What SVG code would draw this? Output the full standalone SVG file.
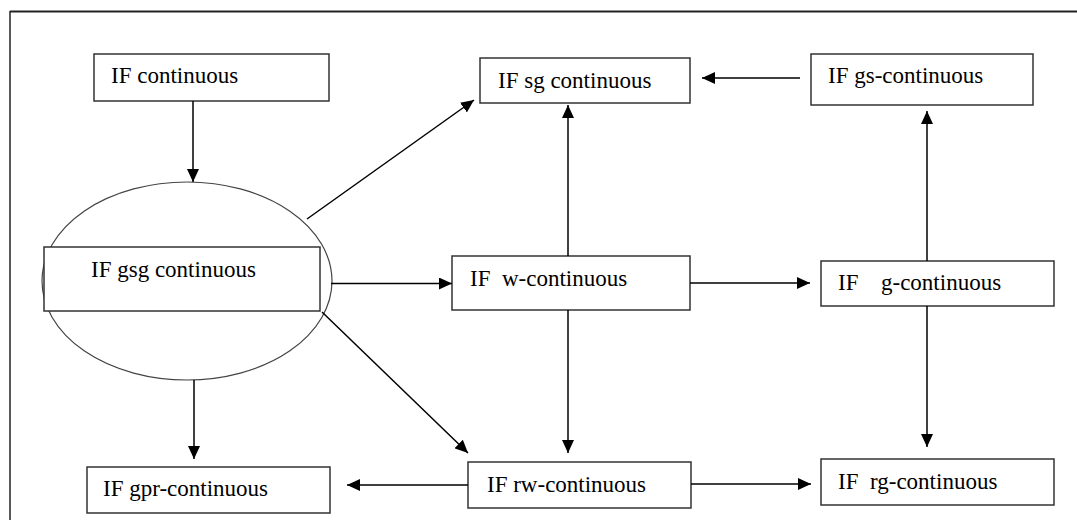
<svg xmlns="http://www.w3.org/2000/svg" width="1077" height="520" viewBox="0 0 1077 520">
<style>
.box{fill:#fff;stroke:#333;stroke-width:1.5}
.lbl{font-family:"Liberation Serif","Times New Roman",serif;font-size:23px;fill:#000}
.con{stroke:#000;stroke-width:1.5;fill:none;marker-end:url(#ah)}
.frame{stroke:#222;fill:none}
</style>
<defs>
<marker id="ah" markerUnits="userSpaceOnUse" markerWidth="14" markerHeight="12" refX="13" refY="6" orient="auto">
<path d="M0,0 L13,6 L0,12 z" fill="#000"/>
</marker>
</defs>
<g id="frame">
<line class="frame" x1="10" y1="11.5" x2="1077" y2="11.5" stroke-width="2"/>
<line class="frame" x1="10" y1="11" x2="10" y2="520" stroke-width="1.5"/>
</g>
<g id="n-continuous"><rect class="box" x="94" y="54" width="235" height="47"/><text class="lbl" x="111" y="83">IF continuous</text></g>
<g id="n-sg"><rect class="box" x="480" y="58" width="210" height="45"/><text class="lbl" x="498" y="88">IF sg continuous</text></g>
<g id="n-gs"><rect class="box" x="811" y="54" width="222" height="51"/><text class="lbl" x="828" y="83">IF gs-continuous</text></g>
<g id="n-gsg">
<ellipse cx="187" cy="281" rx="145" ry="99" fill="#fff" stroke="#444" stroke-width="1.2"/>
<rect class="box" x="44" y="247" width="276" height="64"/>
<text class="lbl" x="91" y="277">IF gsg continuous</text>
</g>
<g id="n-w"><rect class="box" x="452" y="256" width="238" height="54"/><text class="lbl" x="470" y="286">IF<tspan x="502">w-continuous</tspan></text></g>
<g id="n-g"><rect class="box" x="821" y="261" width="233" height="45"/><text class="lbl" x="838" y="290">IF<tspan x="881">g-continuous</tspan></text></g>
<g id="n-gpr"><rect class="box" x="87" y="467" width="243" height="46"/><text class="lbl" x="103" y="496">IF gpr-continuous</text></g>
<g id="n-rw"><rect class="box" x="468" y="462" width="223" height="46"/><text class="lbl" x="487" y="492">IF rw-continuous</text></g>
<g id="n-rg"><rect class="box" x="821" y="459" width="233" height="46"/><text class="lbl" x="838" y="489">IF<tspan x="870">rg-continuous</tspan></text></g>
<g id="connectors">
<line class="con" x1="193" y1="101" x2="193" y2="182"/>
<line class="con" x1="307" y1="219" x2="474" y2="100"/>
<line class="con" x1="331" y1="283.5" x2="452" y2="283.5"/>
<line class="con" x1="322" y1="312" x2="468" y2="453"/>
<line class="con" x1="194" y1="380" x2="194" y2="459"/>
<line class="con" x1="568" y1="256" x2="568" y2="105"/>
<line class="con" x1="568" y1="310" x2="568" y2="453"/>
<line class="con" x1="690" y1="283" x2="810" y2="283"/>
<line class="con" x1="800" y1="78" x2="702" y2="78"/>
<line class="con" x1="927" y1="261" x2="927" y2="111"/>
<line class="con" x1="927" y1="306" x2="927" y2="447"/>
<line class="con" x1="468" y1="485" x2="347" y2="485"/>
<line class="con" x1="691" y1="484" x2="811" y2="484"/>
</g>
</svg>
